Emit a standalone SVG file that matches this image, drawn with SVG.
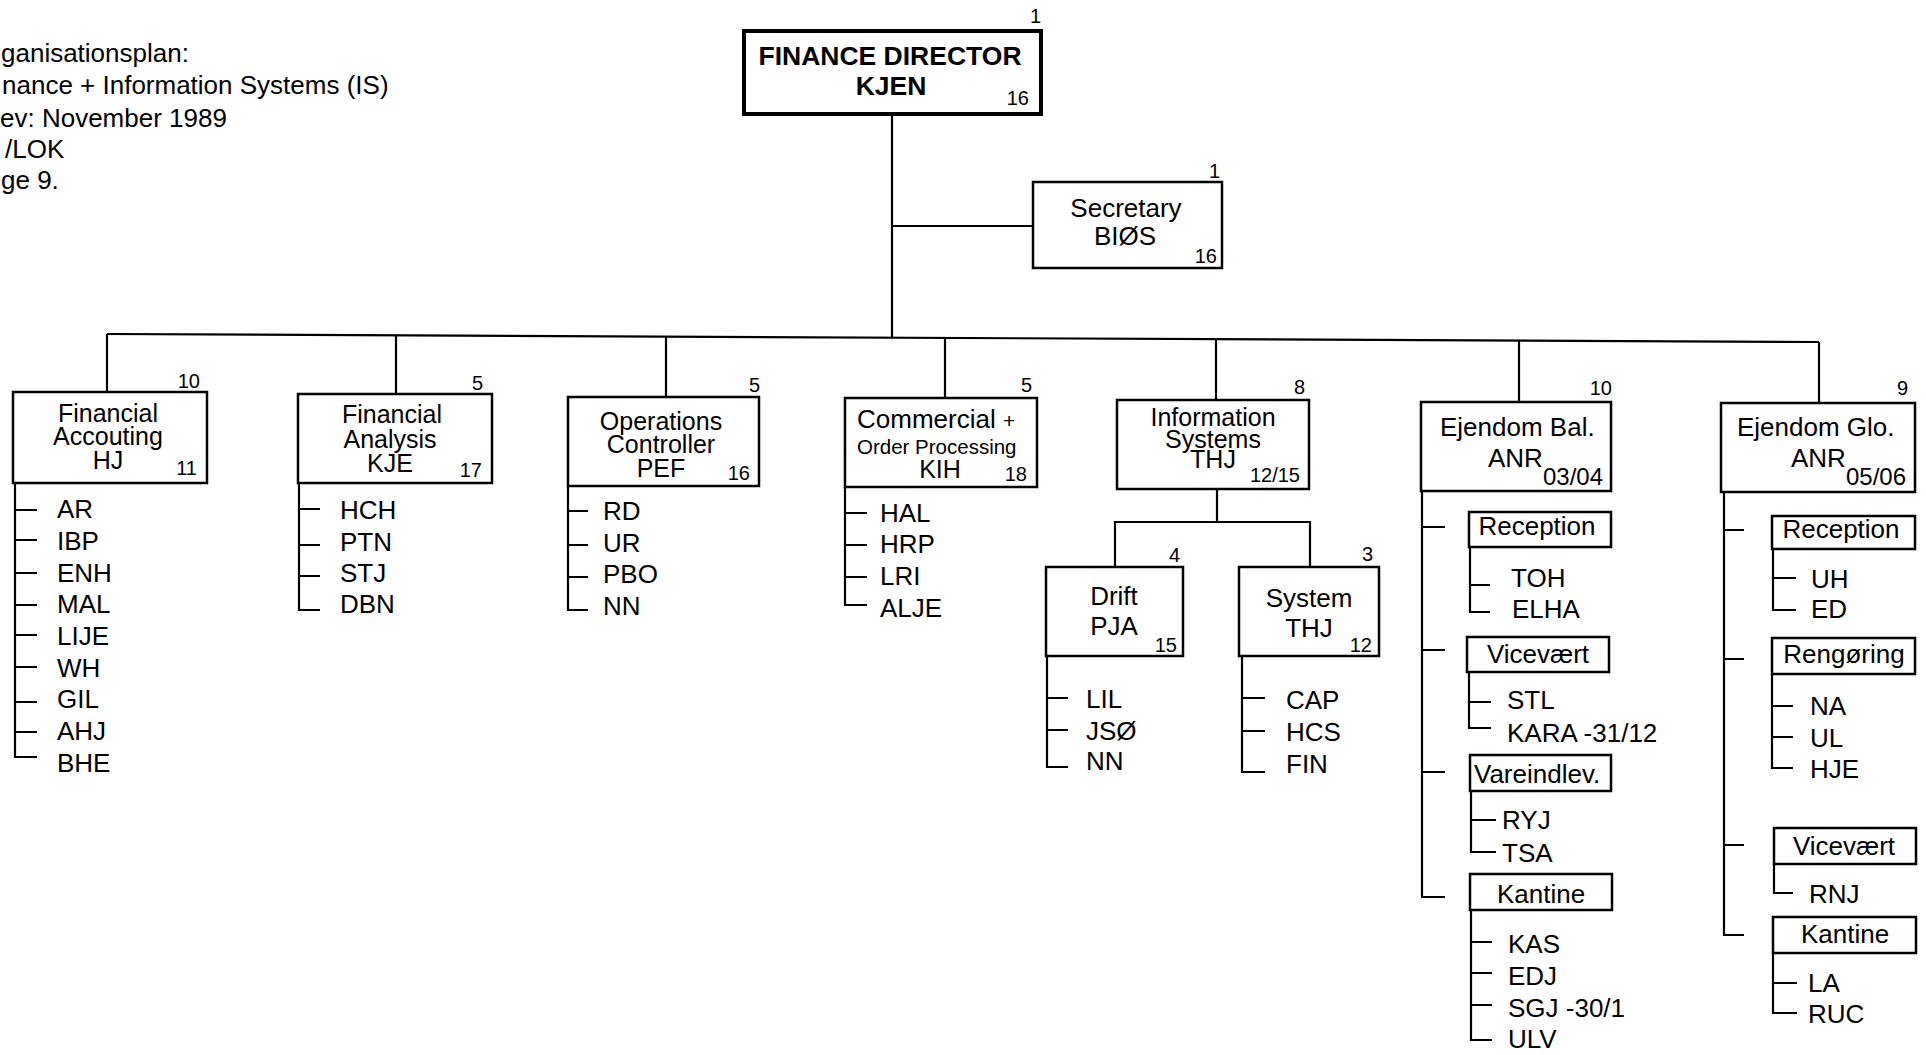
<svg xmlns="http://www.w3.org/2000/svg" width="1926" height="1055" viewBox="0 0 1926 1055">
<style>
text{font-family:"Liberation Sans",Arial,Helvetica,sans-serif;font-size:26px;fill:#000}
.num{font-size:20px}
.bold{font-weight:bold;font-size:26.5px}
.bx{font-size:25px}
.small{font-size:20.5px}
.sub{font-size:24px}
.plus{font-size:21px}
.m{text-anchor:middle}
.e{text-anchor:end}
.box{fill:#fff;stroke:#000;stroke-width:2.5}
.ln{fill:none;stroke:#000;stroke-width:2.2}
</style>
<rect width="1926" height="1055" fill="#fff"/>
<g id="header">
<text x="1" y="62">ganisationsplan:</text>
<text x="2" y="94">nance + Information Systems (IS)</text>
<text x="0" y="127">ev: November 1989</text>
<text x="5" y="158">/LOK</text>
<text x="1" y="189">ge 9.</text>
</g>
<g id="connectors" class="ln">
<path d="M892 115 V338"/>
<path d="M892 226 H1033"/>
<path d="M107 334 L1819 342"/>
<path d="M107 334 V392 M396 335.4 V394 M666 336.6 V397 M945 337.9 V398 M1216 339.2 V400 M1519 340.6 V402 M1819 342 V403"/>
<path d="M1217 489 V522 M1115 567 V522 H1310 V567"/>
<path d="M15 483 V757 H37 M15 510 H37 M15 540 H37 M15 573 H37 M15 605 H37 M15 635 H37 M15 667 H37 M15 702 H37 M15 732 H37"/>
<path d="M299 483 V610 H320 M299 509 H320 M299 545 H320 M299 576 H320"/>
<path d="M568 486 V610 H588 M568 511 H588 M568 545 H588 M568 577 H588"/>
<path d="M845 487 V605 H867 M845 513 H867 M845 545 H867 M845 577 H867"/>
<path d="M1047 656 V767 H1068 M1047 698 H1068 M1047 730 H1068"/>
<path d="M1242 656 V772 H1265 M1242 698 H1265 M1242 731 H1265"/>
<path d="M1422 491 V897 H1445 M1422 527 H1445 M1422 650 H1445 M1422 772 H1445"/>
<path d="M1470 547 V612 H1490 M1470 585 H1490"/>
<path d="M1469 672 V728 H1491 M1469 702 H1491"/>
<path d="M1471 791 V852 H1496 M1471 820 H1496"/>
<path d="M1471 910 V1040 H1492 M1471 942 H1492 M1471 973 H1492 M1471 1005 H1492"/>
<path d="M1724 492 V935 H1744 M1724 530 H1744 M1724 659 H1744 M1724 845 H1744"/>
<path d="M1773 549 V610 H1796 M1773 578 H1796"/>
<path d="M1772 674 V768 H1793 M1772 706 H1793 M1772 737 H1793"/>
<path d="M1774 864 V893 H1793"/>
<path d="M1773 953 V1013 H1797 M1773 983 H1797"/>
</g>
<g id="finance-director">
<rect x="744" y="31" width="297" height="83" fill="#fff" stroke="#000" stroke-width="4"/>
<text class="num e" x="1041" y="23">1</text>
<text class="bold m" x="890" y="65">FINANCE DIRECTOR</text>
<text class="bold m" x="891" y="95">KJEN</text>
<text class="num e" x="1029" y="105">16</text>
</g>
<g id="secretary">
<rect class="box" x="1033" y="182" width="189" height="86"/>
<text class="num e" x="1220" y="178">1</text>
<text class="m" x="1126" y="217">Secretary</text>
<text class="m" x="1125" y="245">BIØS</text>
<text class="num e" x="1217" y="263">16</text>
</g>
<g id="financial-accouting">
<rect class="box" x="13" y="392" width="194" height="91"/>
<text class="num e" x="200" y="388">10</text>
<text class="bx m" x="108" y="422">Financial</text>
<text class="bx m" x="108" y="445">Accouting</text>
<text class="bx m" x="108" y="469">HJ</text>
<text class="num e" x="197" y="475">11</text>
<text x="57" y="518">AR</text>
<text x="57" y="550">IBP</text>
<text x="57" y="582">ENH</text>
<text x="57" y="613">MAL</text>
<text x="57" y="645">LIJE</text>
<text x="57" y="677">WH</text>
<text x="57" y="708">GIL</text>
<text x="57" y="740">AHJ</text>
<text x="57" y="772">BHE</text>
</g>
<g id="financial-analysis">
<rect class="box" x="298" y="394" width="194" height="89"/>
<text class="num e" x="483" y="390">5</text>
<text class="bx m" x="392" y="423">Financial</text>
<text class="bx m" x="390" y="448">Analysis</text>
<text class="bx m" x="390" y="472">KJE</text>
<text class="num e" x="482" y="477">17</text>
<text x="340" y="519">HCH</text>
<text x="340" y="551">PTN</text>
<text x="340" y="582">STJ</text>
<text x="340" y="613">DBN</text>
</g>
<g id="operations-controller">
<rect class="box" x="568" y="397" width="191" height="89"/>
<text class="num e" x="760" y="392">5</text>
<text class="bx m" x="661" y="430">Operations</text>
<text class="bx m" x="661" y="453">Controller</text>
<text class="bx m" x="661" y="477">PEF</text>
<text class="num e" x="750" y="480">16</text>
<text x="603" y="520">RD</text>
<text x="603" y="552">UR</text>
<text x="603" y="583">PBO</text>
<text x="603" y="615">NN</text>
</g>
<g id="commercial">
<rect class="box" x="845" y="398" width="192" height="89"/>
<text class="num e" x="1032" y="392">5</text>
<text x="857" y="428">Commercial <tspan class="plus">+</tspan></text>
<text class="small" x="857" y="454">Order Processing</text>
<text class="bx m" x="940" y="478">KIH</text>
<text class="num e" x="1027" y="481">18</text>
<text x="880" y="522">HAL</text>
<text x="880" y="553">HRP</text>
<text x="880" y="585">LRI</text>
<text x="880" y="617">ALJE</text>
</g>
<g id="information-systems">
<rect class="box" x="1117" y="400" width="192" height="89"/>
<text class="num e" x="1305" y="394">8</text>
<text class="bx m" x="1213" y="426">Information</text>
<text class="bx m" x="1213" y="448">Systems</text>
<text class="bx m" x="1213" y="468">THJ</text>
<text class="num e" x="1300" y="482">12/15</text>
</g>
<g id="drift">
<rect class="box" x="1046" y="567" width="137" height="89"/>
<text class="num e" x="1180" y="562">4</text>
<text class="m" x="1114" y="605">Drift</text>
<text class="m" x="1114" y="635">PJA</text>
<text class="num e" x="1177" y="652">15</text>
<text x="1086" y="708">LIL</text>
<text x="1086" y="740">JSØ</text>
<text x="1086" y="770">NN</text>
</g>
<g id="system">
<rect class="box" x="1239" y="567" width="140" height="89"/>
<text class="num e" x="1373" y="561">3</text>
<text class="m" x="1309" y="607">System</text>
<text class="m" x="1309" y="637">THJ</text>
<text class="num e" x="1372" y="652">12</text>
<text x="1286" y="709">CAP</text>
<text x="1286" y="741">HCS</text>
<text x="1286" y="773">FIN</text>
</g>
<g id="ejendom-bal">
<rect class="box" x="1421" y="402" width="190" height="89"/>
<text class="num e" x="1612" y="395">10</text>
<text x="1440" y="436">Ejendom Bal.</text>
<text x="1488" y="467">ANR</text>
<text class="sub" x="1543" y="485">03/04</text>
</g>
<g id="eb-reception">
<rect class="box" x="1469" y="512" width="142" height="35"/>
<text class="m" x="1537" y="535">Reception</text>
<text x="1511" y="587">TOH</text>
<text x="1512" y="618">ELHA</text>
</g>
<g id="eb-vicevaert">
<rect class="box" x="1467" y="637" width="142" height="35"/>
<text class="m" x="1538" y="663">Vicevært</text>
<text x="1507" y="709">STL</text>
<text x="1507" y="742">KARA -31/12</text>
</g>
<g id="eb-vareindlev">
<rect class="box" x="1470" y="755" width="141" height="36"/>
<text x="1474" y="783">Vareindlev.</text>
<text x="1502" y="829">RYJ</text>
<text x="1502" y="862">TSA</text>
</g>
<g id="eb-kantine">
<rect class="box" x="1470" y="874" width="142" height="36"/>
<text class="m" x="1541" y="903">Kantine</text>
<text x="1508" y="953">KAS</text>
<text x="1508" y="985">EDJ</text>
<text x="1508" y="1017">SGJ -30/1</text>
<text x="1508" y="1048">ULV</text>
</g>
<g id="ejendom-glo">
<rect class="box" x="1721" y="403" width="194" height="89"/>
<text class="num e" x="1908" y="395">9</text>
<text x="1737" y="436">Ejendom Glo.</text>
<text x="1791" y="467">ANR</text>
<text class="sub" x="1846" y="485">05/06</text>
</g>
<g id="eg-reception">
<rect class="box" x="1772" y="516" width="143" height="33"/>
<text class="m" x="1841" y="538">Reception</text>
<text x="1811" y="588">UH</text>
<text x="1811" y="618">ED</text>
</g>
<g id="eg-rengoering">
<rect class="box" x="1772" y="638" width="143" height="36"/>
<text class="m" x="1844" y="663">Rengøring</text>
<text x="1810" y="715">NA</text>
<text x="1810" y="747">UL</text>
<text x="1810" y="778">HJE</text>
</g>
<g id="eg-vicevaert">
<rect class="box" x="1774" y="828" width="142" height="36"/>
<text class="m" x="1844" y="855">Vicevært</text>
<text x="1809" y="903">RNJ</text>
</g>
<g id="eg-kantine">
<rect class="box" x="1773" y="917" width="143" height="36"/>
<text class="m" x="1845" y="943">Kantine</text>
<text x="1808" y="992">LA</text>
<text x="1808" y="1023">RUC</text>
</g>
</svg>
